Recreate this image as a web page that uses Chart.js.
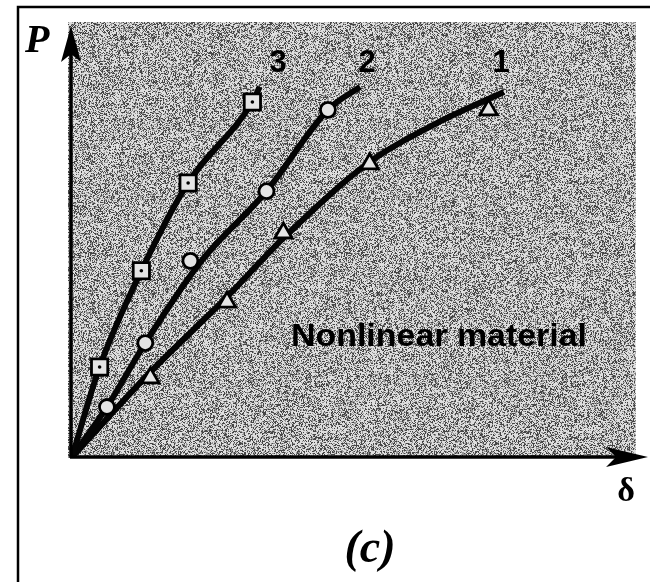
<!DOCTYPE html>
<html>
<head>
<meta charset="utf-8">
<script src="https://cdn.jsdelivr.net/npm/chart.js@4/dist/chart.umd.min.js"></script>
<style>
  html, body { margin: 0; padding: 0; background: #fff; }
  canvas { display: block; }
</style>
</head>
<body>
<canvas id="c" width="650" height="582"></canvas>
<script>
// ---- data (arbitrary units of deflection δ and load P) ----
const curve3Line = [[0,0],[0.49,2.07],[1.23,4.28],[2.06,6.30],[3.20,8.16],[3.33,8.51]];
const curve3Pts  = [[0.49,2.07],[1.23,4.28],[2.06,6.30],[3.20,8.16]];
const curve2Line = [[0,0],[0.62,1.15],[1.30,2.62],[2.28,4.48],[3.45,6.11],[4.54,7.98],[5.11,8.51]];
const curve2Pts  = [[0.62,1.15],[1.30,2.62],[2.10,4.51],[3.45,6.11],[4.54,7.98]];
const curve1Line = [[0,0],[1.39,1.95],[2.75,3.68],[3.75,5.03],[5.30,6.80],[6.48,7.68],[7.66,8.39]];
const curve1Pts  = [[1.39,1.82],[2.75,3.56],[3.75,5.15],[5.28,6.74],[7.39,7.98]];
const curveLabels = ['1','2','3'];
const axisLabelY = 'P';
const axisLabelX = 'δ';
const annotation = 'Nonlinear material';
const caption = '(c)';

const toXY = a => a.map(p => ({x: p[0], y: p[1]}));

// stipple texture (decorative, deterministic)
function makePattern(ctx) {
  const n = 256;
  const cv = document.createElement('canvas');
  cv.width = n; cv.height = n;
  const c2 = cv.getContext('2d');
  const img = c2.createImageData(n, n);
  for (let y = 0; y < n; y++) for (let x = 0; x < n; x++) {
    let h = Math.imul(x, 374761393) + Math.imul(y, 668265263);
    h = Math.imul(h ^ (h >>> 13), 1274126177);
    h = (h ^ (h >>> 16)) >>> 0;
    const r = h / 4294967296;
    const v = r < 0.28 ? 70 : (r < 0.5 ? 150 : 222);
    const i = (y * n + x) * 4;
    img.data[i] = img.data[i+1] = img.data[i+2] = v; img.data[i+3] = 255;
  }
  c2.putImageData(img, 0, 0);
  return ctx.createPattern(cv, 'repeat');
}

const serif = '"Liberation Serif"';
const sans = '"Liberation Sans"';

const decor = {
  id: 'decor',
  beforeDraw(chart) {
    const ctx = chart.ctx;
    const xs = chart.scales.x, ys = chart.scales.y;
    const x0 = xs.getPixelForValue(0), y0 = ys.getPixelForValue(0);
    ctx.save();
    ctx.fillStyle = '#fff';
    ctx.fillRect(0, 0, chart.width, chart.height);
    ctx.strokeStyle = '#000';
    ctx.lineWidth = 2.5;
    ctx.beginPath();
    ctx.moveTo(18, 582); ctx.lineTo(18, 7); ctx.lineTo(650, 7);
    ctx.stroke();
    ctx.fillStyle = makePattern(ctx);
    ctx.fillRect(x0 - 4, chart.chartArea.top, chart.chartArea.right - x0 + 4, y0 - chart.chartArea.top + 1);
    ctx.restore();
  },
  afterDraw(chart) {
    const ctx = chart.ctx;
    const xs = chart.scales.x, ys = chart.scales.y;
    const x0 = xs.getPixelForValue(0), y0 = ys.getPixelForValue(0);
    ctx.save();
    ctx.strokeStyle = '#000';
    ctx.fillStyle = '#000';
    ctx.lineWidth = 3.5;
    ctx.beginPath(); ctx.moveTo(x0 - 1, y0 + 1); ctx.lineTo(x0 - 1, 40); ctx.stroke();
    ctx.beginPath();
    ctx.moveTo(x0 - 1, 26); ctx.lineTo(x0 + 9, 62); ctx.lineTo(x0 - 1, 54); ctx.lineTo(x0 - 11, 62); ctx.closePath(); ctx.fill();
    ctx.beginPath(); ctx.moveTo(x0 - 2, y0); ctx.lineTo(630, y0); ctx.stroke();
    ctx.beginPath();
    ctx.moveTo(648, y0); ctx.lineTo(606, y0 - 10); ctx.lineTo(616, y0); ctx.lineTo(606, y0 + 10); ctx.closePath(); ctx.fill();

    ctx.textAlign = 'left';
    ctx.textBaseline = 'alphabetic';
    ctx.font = 'italic bold 40px ' + serif;
    ctx.fillText(axisLabelY, 25, 52);
    ctx.textAlign = 'center';
    ctx.font = 'bold 34px ' + serif;
    ctx.fillText(axisLabelX, 626, 501);
    ctx.font = 'italic bold 46px ' + serif;
    ctx.fillText(caption, 370, 562);

    ctx.font = 'bold 31px ' + sans;
    ctx.fillText(curveLabels[0], 501, 72);
    ctx.fillText(curveLabels[1], 367, 72);
    ctx.fillText(curveLabels[2], 278, 72);

    ctx.font = 'bold 31px ' + sans;
    const w = ctx.measureText(annotation).width;
    ctx.translate(291, 346);
    ctx.scale(296 / w, 1);
    ctx.textAlign = 'left';
    ctx.fillText(annotation, 0, 0);
    ctx.restore();
  }
};

const lineStyle = {
  showLine: true, borderColor: '#050505', borderWidth: 6, pointRadius: 0,
  cubicInterpolationMode: 'monotone', fill: false, order: 2
};
const markStyle = {
  showLine: false, borderColor: '#000', borderWidth: 2.8,
  backgroundColor: '#e4e4e4', order: 1
};

new Chart(document.getElementById('c'), {
  type: 'scatter',
  data: {
    datasets: [
      Object.assign({ label: '3 dots', data: toXY(curve3Pts) }, { showLine: false, pointStyle: 'circle', pointRadius: 1.8, borderWidth: 0, backgroundColor: '#000', order: 0 }),
      Object.assign({ label: '3 marks', data: toXY(curve3Pts), pointStyle: 'rect', pointRadius: 11.5 }, markStyle),
      Object.assign({ label: '2 marks', data: toXY(curve2Pts), pointStyle: 'circle', pointRadius: 7.5 }, markStyle),
      Object.assign({ label: '1 marks', data: toXY(curve1Pts), pointStyle: 'triangle', pointRadius: 10 }, markStyle),
      Object.assign({ label: '3', data: toXY(curve3Line) }, lineStyle),
      Object.assign({ label: '2', data: toXY(curve2Line) }, lineStyle),
      Object.assign({ label: '1', data: toXY(curve1Line) }, lineStyle)
    ]
  },
  options: {
    responsive: false,
    animation: false,
    events: [],
    layout: { padding: { left: 72, right: 10, top: 22, bottom: 125 } },
    plugins: { legend: { display: false }, tooltip: { enabled: false } },
    scales: {
      x: { type: 'linear', min: 0, max: 10, display: false },
      y: { type: 'linear', min: 0, max: 10, display: false }
    }
  },
  plugins: [decor]
});
</script>
</body>
</html>
